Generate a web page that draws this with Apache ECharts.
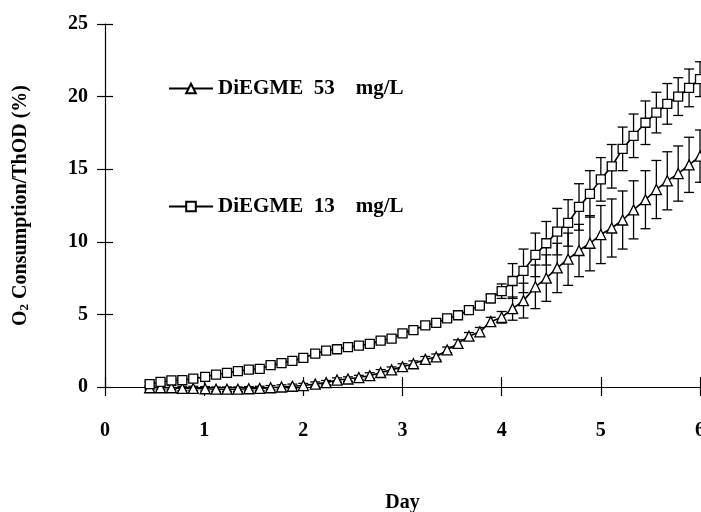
<!DOCTYPE html>
<html>
<head>
<meta charset="utf-8">
<script src="https://cdn.jsdelivr.net/npm/echarts@6/dist/echarts.min.js"></script>
<style>html,body{margin:0;padding:0;background:#fff}#c{width:701px;height:512px}</style>
</head>
<body>
<div id="c"></div>
<script>
const days = [0.45,0.56,0.67,0.78,0.89,1.01,1.12,1.23,1.34,1.45,1.56,1.67,1.78,1.89,2.00,2.12,2.23,2.34,2.45,2.56,2.67,2.78,2.89,3.00,3.11,3.23,3.34,3.45,3.56,3.67,3.78,3.89,4.00,4.11,4.22,4.34,4.45,4.56,4.67,4.78,4.89,5.00,5.11,5.22,5.33,5.45,5.56,5.67,5.78,5.89,6.00];
const o2_13 = [0.2,0.35,0.45,0.47,0.57,0.7,0.85,0.97,1.1,1.2,1.25,1.5,1.65,1.8,2.0,2.3,2.5,2.6,2.75,2.85,2.97,3.2,3.33,3.7,3.92,4.25,4.41,4.72,4.94,5.3,5.6,6.1,6.6,7.3,8.0,9.1,9.9,10.7,11.3,12.4,13.3,14.3,15.2,16.4,17.3,18.2,18.9,19.5,20.0,20.6,21.2];
const err_13 = [0.15,0.15,0.15,0.15,0.15,0.15,0.15,0.15,0.15,0.15,0.15,0.15,0.15,0.15,0.15,0.15,0.15,0.15,0.15,0.15,0.15,0.2,0.2,0.2,0.2,0.2,0.2,0.2,0.25,0.25,0.25,0.3,0.5,1.2,1.5,1.5,1.5,1.6,1.6,1.6,1.6,1.5,1.5,1.5,1.5,1.5,1.4,1.4,1.3,1.3,1.2];
const o2_53 = [-0.05,-0.05,-0.05,-0.1,-0.1,-0.12,-0.15,-0.15,-0.15,-0.12,-0.1,-0.05,0.0,0.05,0.1,0.2,0.3,0.48,0.55,0.65,0.78,1.0,1.18,1.4,1.6,1.9,2.07,2.55,3.0,3.5,3.8,4.5,4.8,5.4,5.95,6.9,7.5,8.2,8.8,9.4,9.9,10.5,10.95,11.5,12.2,12.9,13.6,14.2,14.7,15.3,15.9];
const err_53 = [0.15,0.15,0.15,0.15,0.15,0.15,0.15,0.15,0.15,0.15,0.15,0.15,0.15,0.15,0.15,0.15,0.15,0.15,0.15,0.15,0.2,0.2,0.2,0.2,0.2,0.2,0.2,0.2,0.25,0.25,0.3,0.3,0.4,0.8,1.2,1.5,1.6,1.7,1.8,1.8,1.9,2.0,2.0,2.0,2.0,2.0,2.0,2.0,1.9,1.9,1.8];
const seriesNames = ['DiEGME  53    mg/L', 'DiEGME  13    mg/L'];
const xName = 'Day';

const FONT = 'Liberation Serif';
const pts = (ys) => days.map((d, i) => [d, ys[i]]);
const bars = (ys, es) => days.map((d, i) => [d, ys[i] - es[i], ys[i] + es[i]]);

function renderErr(params, api) {
  const x = api.value(0);
  const lo = api.coord([x, api.value(1)]);
  const hi = api.coord([x, api.value(2)]);
  const hw = 5;
  const st = { stroke: '#000', lineWidth: 1.3 };
  return {
    type: 'group',
    children: [
      { type: 'line', shape: { x1: hi[0], y1: hi[1], x2: lo[0], y2: lo[1] }, style: st },
      { type: 'line', shape: { x1: hi[0] - hw, y1: hi[1], x2: hi[0] + hw, y2: hi[1] }, style: st },
      { type: 'line', shape: { x1: lo[0] - hw, y1: lo[1], x2: lo[0] + hw, y2: lo[1] }, style: st }
    ]
  };
}

const chart = echarts.init(document.getElementById('c'), null, { renderer: 'canvas' });
const labelStyle = { fontFamily: FONT, fontWeight: 'bold', fontSize: 20, color: '#000' };
chart.setOption({
  animation: false,
  backgroundColor: '#fff',
  grid: { left: 105, right: 1, top: 24, bottom: 125, containLabel: false, outerBoundsMode: 'none' },
  legend: {
    data: seriesNames,
    orient: 'vertical',
    left: 168,
    top: 78,
    padding: 0,
    itemWidth: 44,
    itemHeight: 12,
    itemGap: 97,
    textStyle: Object.assign({}, labelStyle, { fontSize: 21, lineHeight: 20 }),
    selectedMode: false
  },
  xAxis: [{
    type: 'value', min: 0, max: 6, interval: 1, position: 'bottom',
    name: xName, nameLocation: 'middle', nameGap: 106,
    nameTextStyle: labelStyle,
    axisLine: { show: true, onZero: false, lineStyle: { color: '#000', width: 1.2 } },
    axisTick: { show: true, length: 9, lineStyle: { color: '#000', width: 1.2 } },
    axisLabel: Object.assign({ margin: 34 }, labelStyle),
    splitLine: { show: false }
  }, {
    type: 'value', min: 0, max: 6, interval: 1, position: 'bottom',
    axisLine: { show: false },
    axisTick: { show: true, inside: true, length: 10, lineStyle: { color: '#000', width: 1.2 } },
    axisLabel: { show: false },
    splitLine: { show: false }
  }],
  yAxis: [{
    type: 'value', min: 0, max: 25, interval: 5, position: 'left',
    name: 'O{sub|2} Consumption/ThOD (%)', nameLocation: 'middle', nameGap: 74,
    nameTextStyle: Object.assign({}, labelStyle, {
      rich: { sub: { fontFamily: FONT, fontWeight: 'bold', fontSize: 13, verticalAlign: 'bottom', padding: [8, 0, 0, 0], color: '#000' } }
    }),
    axisLine: { show: true, onZero: false, lineStyle: { color: '#000', width: 1.2 } },
    axisTick: { show: true, length: 8, lineStyle: { color: '#000', width: 1.2 } },
    axisLabel: Object.assign({ margin: 17 }, labelStyle),
    splitLine: { show: false }
  }, {
    type: 'value', min: 0, max: 25, interval: 5, position: 'left',
    axisLine: { show: false },
    axisTick: { show: true, inside: true, length: 8, lineStyle: { color: '#000', width: 1.2 } },
    axisLabel: { show: false },
    splitLine: { show: false }
  }],
  series: [
    { type: 'custom', name: 'err53', renderItem: renderErr, data: bars(o2_53, err_53), clip: false, z: 2 },
    { type: 'custom', name: 'err13', renderItem: renderErr, data: bars(o2_13, err_13), clip: false, z: 2 },
    {
      type: 'line', name: seriesNames[0], data: pts(o2_53), clip: false, z: 3,
      symbol: 'triangle', symbolSize: 10, showAllSymbol: true,
      lineStyle: { color: '#000', width: 1.6 },
      itemStyle: { color: '#fff', borderColor: '#000', borderWidth: 1.3 }
    },
    {
      type: 'line', name: seriesNames[1], data: pts(o2_13), clip: false, z: 3,
      symbol: 'rect', symbolSize: 9, showAllSymbol: true,
      lineStyle: { color: '#000', width: 1.6 },
      itemStyle: { color: '#fff', borderColor: '#000', borderWidth: 1.3 }
    }
  ]
});
</script>
</body>
</html>
